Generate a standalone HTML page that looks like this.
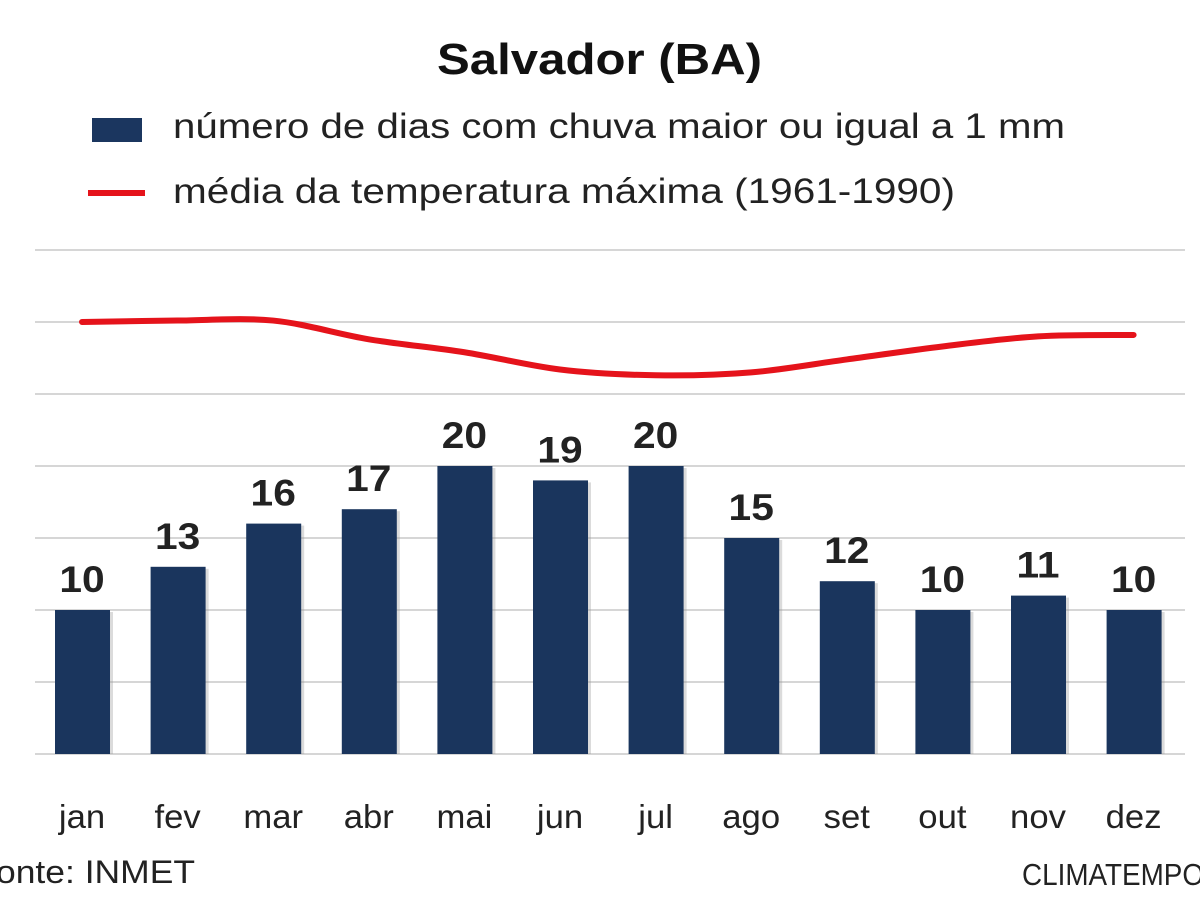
<!DOCTYPE html>
<html><head><meta charset="utf-8">
<style>
body{margin:0;background:#fff;width:1200px;height:900px;overflow:hidden;font-family:"Liberation Sans","DejaVu Sans",sans-serif;}
svg text{font-family:"Liberation Sans","DejaVu Sans",sans-serif;}
</style></head>
<body>
<svg id="chart" width="1200" height="900" xmlns="http://www.w3.org/2000/svg">
<rect width="1200" height="900" fill="#fff"/>
<text x="437" y="74" font-size="44" font-weight="bold" fill="#111" textLength="325" lengthAdjust="spacingAndGlyphs">Salvador (BA)</text>
<rect x="92" y="118" width="50" height="24" fill="#1b365f"/>
<text x="173" y="138" font-size="35" fill="#222" textLength="892" lengthAdjust="spacingAndGlyphs">número de dias com chuva maior ou igual a 1 mm</text>
<line x1="88" y1="193" x2="145" y2="193" stroke="#e5131b" stroke-width="6"/>
<text x="173" y="203" font-size="35" fill="#222" textLength="782" lengthAdjust="spacingAndGlyphs">média da temperatura máxima (1961-1990)</text>
<g id="grid"></g><g id="bars"></g><g id="line"></g><g id="labels"></g>
<text x="-4" y="883" font-size="32" fill="#222" textLength="199" lengthAdjust="spacingAndGlyphs">onte: INMET</text>
<text x="1022" y="885" font-size="31" fill="#222" textLength="182" lengthAdjust="spacingAndGlyphs">CLIMATEMPO</text>
</svg>
<script>
const months=["jan","fev","mar","abr","mai","jun","jul","ago","set","out","nov","dez"];
const rainDays=[10,13,16,17,20,19,20,15,12,10,11,10];
const tempMax=[30.0,30.1,30.1,28.8,27.9,26.7,26.3,26.5,27.4,28.3,29.0,29.1];
const gridTicks=[0,5,10,15,20,25,30,35];
const NS="http://www.w3.org/2000/svg";
const y=v=>754-v*14.4;
const x=i=>82+i*95.6;
function mk(tag,attrs,parent){const e=document.createElementNS(NS,tag);for(const k in attrs)e.setAttribute(k,attrs[k]);document.getElementById(parent).appendChild(e);return e;}
function widen(t,f){const w=t.getComputedTextLength();t.setAttribute('textLength',w*f);t.setAttribute('lengthAdjust','spacingAndGlyphs');}
gridTicks.forEach(t=>{const l=mk('line',{x1:35,x2:1185,y1:y(t),y2:y(t),stroke:'#c8c8c8','stroke-width':1.5},'grid');

});
rainDays.forEach((v,i)=>{
const s=mk('rect',{x:x(i)-27+3,y:y(v)+2,width:55,height:754-y(v)-2,fill:'#999',opacity:0.35},'bars');


const b=mk('rect',{x:x(i)-27,y:y(v),width:55,height:754-y(v),fill:'#1a355d'},'bars');


const t=mk('text',{x:x(i),y:y(v)-18,'text-anchor':'middle','font-size':37,'font-weight':'bold',fill:'#222'},'labels');
t.textContent=v;


widen(t,1.1);
const m=mk('text',{x:x(i),y:828,'text-anchor':'middle','font-size':33,fill:'#222'},'labels');
m.textContent=months[i];


widen(m,1.05);
});
const pts=tempMax.map((v,i)=>[x(i),y(v)]);
let d='M'+pts[0][0]+','+pts[0][1];
for(let i=0;i<pts.length-1;i++){
const p0=pts[Math.max(0,i-1)],p1=pts[i],p2=pts[i+1],p3=pts[Math.min(pts.length-1,i+2)];
const c1x=p1[0]+(p2[0]-p0[0])/6,c1y=p1[1]+(p2[1]-p0[1])/6;
const c2x=p2[0]-(p3[0]-p1[0])/6,c2y=p2[1]-(p3[1]-p1[1])/6;
d+=` C${c1x},${c1y} ${c2x},${c2y} ${p2[0]},${p2[1]}`;}
const ln=mk('path',{d:d,fill:'none',stroke:'#e5131b','stroke-width':6,'stroke-linecap':'round'},'line');


</script>
</body></html>
